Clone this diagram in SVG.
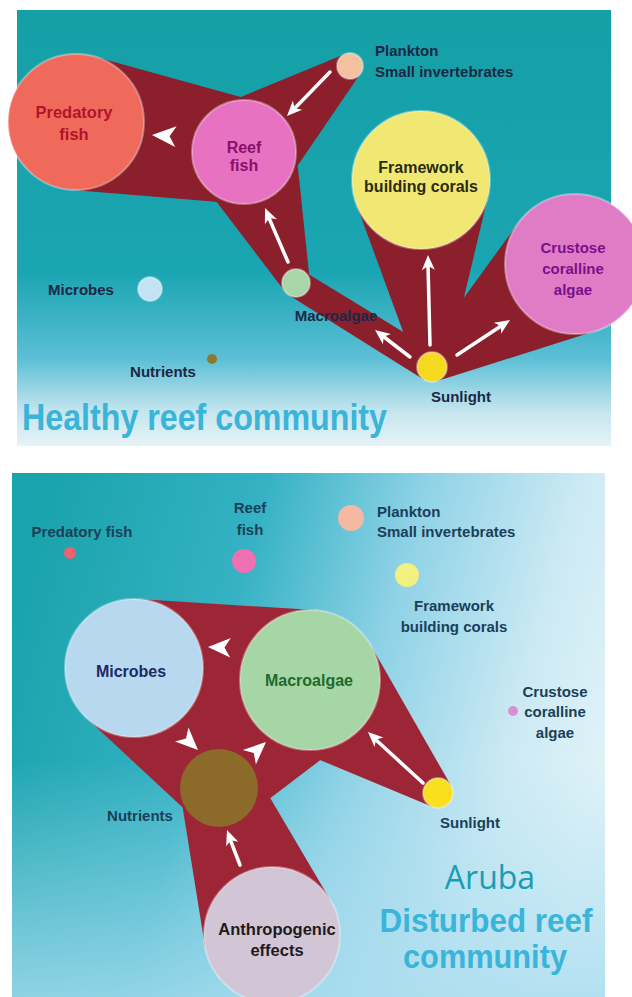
<svg xmlns="http://www.w3.org/2000/svg" xmlns:xlink="http://www.w3.org/1999/xlink" width="632" height="997" viewBox="0 0 632 997">
<defs>
<style>
text{font-family:"Liberation Sans",Arial,sans-serif;}
.in{font-size:16px;font-weight:bold;text-anchor:middle;}
.ext{font-size:15px;font-weight:bold;fill:#1c2744;}
.extb{font-size:15px;font-weight:bold;fill:#1a4058;}
.mid{text-anchor:middle;}
.title{font-size:36px;font-weight:bold;fill:#3ab4d9;}
.w1{fill:#8b1f2c;}
.w2{fill:#9d2636;}
.shaft{stroke:#ffffff;stroke-width:3.5;stroke-linecap:round;fill:none;}
.ah{fill:#ffffff;}
.node{stroke:#ffffff;stroke-opacity:0.35;stroke-width:2;}
</style>
<linearGradient id="bgTop" x1="0" y1="10" x2="0" y2="446" gradientUnits="userSpaceOnUse">
<stop offset="0" stop-color="#15a0a6"/>
<stop offset="0.6" stop-color="#1aa5b2"/>
<stop offset="0.8" stop-color="#5cbfd6"/>
<stop offset="0.92" stop-color="#c4e5ee"/>
<stop offset="1" stop-color="#e6f3f7"/>
</linearGradient>
<linearGradient id="bgBot" x1="12" y1="600" x2="605" y2="760" gradientUnits="userSpaceOnUse">
<stop offset="0" stop-color="#19a3aa"/>
<stop offset="0.35" stop-color="#35b2c4"/>
<stop offset="0.6" stop-color="#8fd2e6"/>
<stop offset="0.85" stop-color="#cdeaf4"/>
<stop offset="1" stop-color="#dff2f8"/>
</linearGradient>
<linearGradient id="bgBot2" x1="0" y1="760" x2="0" y2="997" gradientUnits="userSpaceOnUse">
<stop offset="0" stop-color="#a8dcef" stop-opacity="0"/>
<stop offset="1" stop-color="#a8dcef" stop-opacity="0.8"/>
</linearGradient>
<path id="head" d="M0,0 L-15,-6.5 L-11,0 L-15,6.5 Z"/>
</defs>

<g id="panels">
<rect x="17" y="10" width="594" height="436" fill="url(#bgTop)"/>
<rect x="12" y="473" width="593" height="524" fill="url(#bgBot)"/>
<rect x="12" y="473" width="593" height="524" fill="url(#bgBot2)"/>
</g>

<g id="connectors">
<g id="wedges-top">
<polygon class="w1" points="94.2,56.5 257.9,101.9 239.7,203.8 70.4,189.8"/>
<polygon class="w1" points="224.1,103.9 345,54 360.7,73.3 286.9,181.3"/>
<polygon class="w1" points="295.7,146.6 309.9,281.5 284.9,291.5 202.6,183.5"/>
<polygon class="w1" points="303.3,271 439.8,354.2 424,379.7 288.6,294.9"/>
<polygon class="w1" points="446.6,370.5 488.1,196 356.2,203.7 417.9,372.2"/>
<polygon class="w1" points="419.9,358.2 518.4,222.8 596.1,330.7 436.5,381.3"/>
</g>
<g id="wedges-bottom">
<polygon class="w2" points="138.3,599.1 314.4,610.1 304.8,749.8 128.9,736.8"/>
<polygon class="w2" points="197.3,640.4 254.8,772.4 192.4,816.6 87,718.5"/>
<polygon class="w2" points="247.9,647.7 352.3,735.8 242.6,819.1 184.4,770"/>
<polygon class="w2" points="134,668 310,680 219,788"/>
<polygon class="w2" points="451,785.6 370.8,645.2 283.1,744.6 432.2,806.8"/>
<polygon class="w2" points="180.5,794.2 252.6,768.2 330.6,900.5 204.9,945.8"/>
</g>
<g id="arrows-top">
<line class="shaft" x1="330" y1="72" x2="295" y2="108"/>
<use xlink:href="#head" class="ah" transform="translate(287,116) rotate(134.3)"/>
<use xlink:href="#head" class="ah" transform="translate(152,135) rotate(184) scale(1.6)"/>
<line class="shaft" x1="288" y1="262" x2="269" y2="218"/>
<use xlink:href="#head" class="ah" transform="translate(265,208) rotate(-113.1)"/>
<line class="shaft" x1="410" y1="357" x2="384" y2="337"/>
<use xlink:href="#head" class="ah" transform="translate(375,330) rotate(-142.4)"/>
<line class="shaft" x1="430" y1="345" x2="428" y2="265"/>
<use xlink:href="#head" class="ah" transform="translate(428,255) rotate(-91.3)"/>
<line class="shaft" x1="457" y1="355" x2="501" y2="326"/>
<use xlink:href="#head" class="ah" transform="translate(510,320) rotate(-33.4)"/>
</g>
<g id="arrows-bottom">
<use xlink:href="#head" class="ah" transform="translate(208,647) rotate(182) scale(1.5)"/>
<use xlink:href="#head" class="ah" transform="translate(198,750) rotate(43.6) scale(1.5)"/>
<use xlink:href="#head" class="ah" transform="translate(266,742) rotate(-42.3) scale(1.5)"/>
<line class="shaft" x1="423" y1="783" x2="375" y2="739"/>
<use xlink:href="#head" class="ah" transform="translate(368,732) rotate(-137.2)"/>
<line class="shaft" x1="240" y1="865" x2="230" y2="839"/>
<use xlink:href="#head" class="ah" transform="translate(227,830) rotate(-110.4)"/>
</g>
</g>

<g id="top-predatory-fish">
<circle class="node" cx="76" cy="122" r="68" fill="#f06a5c"/>
<text class="in" x="74" y="118" fill="#b0142c" style="font-size:16.5px">Predatory</text>
<text class="in" x="74" y="140" fill="#b0142c" style="font-size:16.5px">fish</text>
</g>
<g id="top-reef-fish">
<circle class="node" cx="244" cy="152" r="52" fill="#e872c2"/>
<text class="in" x="244" y="153" fill="#8a0f6a">Reef</text>
<text class="in" x="244" y="171" fill="#8a0f6a">fish</text>
</g>
<g id="top-plankton">
<circle class="node" cx="350" cy="66" r="13" fill="#f3c0a0"/>
<text class="ext" x="375" y="56">Plankton</text>
<text class="ext" x="375" y="77">Small invertebrates</text>
</g>
<g id="top-framework-corals">
<circle class="node" cx="421" cy="180" r="69" fill="#f0e872"/>
<text class="in" x="421" y="173" fill="#2b2a12">Framework</text>
<text class="in" x="421" y="192" fill="#2b2a12">building corals</text>
</g>
<g id="top-crustose">
<circle class="node" cx="575" cy="264" r="70" fill="#e07cc6"/>
<text class="in" x="573" y="253" fill="#7a0f8c" style="font-size:15px">Crustose</text>
<text class="in" x="573" y="274" fill="#7a0f8c" style="font-size:15px">coralline</text>
<text class="in" x="573" y="295" fill="#7a0f8c" style="font-size:15px">algae</text>
</g>
<g id="top-macroalgae">
<circle class="node" cx="296" cy="283" r="14" fill="#a8d6a8"/>
<text class="ext mid" x="336" y="321">Macroalgae</text>
</g>
<g id="top-sunlight">
<circle class="node" cx="432" cy="367" r="15" fill="#f5d820"/>
<text class="ext mid" x="461" y="402">Sunlight</text>
</g>
<g id="top-microbes">
<circle class="node" cx="150" cy="289" r="12" fill="#c4e2f6"/>
<text class="ext mid" x="81" y="295">Microbes</text>
</g>
<g id="top-nutrients">
<circle cx="212" cy="359" r="5" fill="#8a7a30"/>
<text class="ext mid" x="163" y="377">Nutrients</text>
</g>
<text class="title" x="22" y="430" textLength="365" lengthAdjust="spacingAndGlyphs">Healthy reef community</text>

<g id="bot-predatory-fish">
<circle cx="70" cy="553" r="6" fill="#f06070"/>
<text class="extb mid" x="82" y="537">Predatory fish</text>
</g>
<g id="bot-reef-fish">
<circle cx="244" cy="561" r="12" fill="#f070b4"/>
<text class="extb mid" x="250" y="513">Reef</text>
<text class="extb mid" x="250" y="535">fish</text>
</g>
<g id="bot-plankton">
<circle cx="351" cy="518" r="13" fill="#f5b8a0"/>
<text class="extb" x="377" y="517">Plankton</text>
<text class="extb" x="377" y="537">Small invertebrates</text>
</g>
<g id="bot-framework-corals">
<circle cx="407" cy="575" r="12" fill="#f2f080"/>
<text class="extb mid" x="454" y="611">Framework</text>
<text class="extb mid" x="454" y="632">building corals</text>
</g>
<g id="bot-crustose">
<circle cx="513" cy="711" r="5" fill="#d890d0"/>
<text class="extb mid" x="555" y="697">Crustose</text>
<text class="extb mid" x="555" y="717">coralline</text>
<text class="extb mid" x="555" y="738">algae</text>
</g>
<g id="bot-microbes">
<circle class="node" cx="134" cy="668" r="69" fill="#b8d8f0"/>
<text class="in" x="131" y="677" fill="#1b2a66">Microbes</text>
</g>
<g id="bot-macroalgae">
<circle class="node" cx="310" cy="680" r="70" fill="#a6d6a6"/>
<text class="in" x="309" y="686" fill="#1d6a2c">Macroalgae</text>
</g>
<g id="bot-nutrients">
<circle cx="219" cy="788" r="39" fill="#8c6b2a"/>
<text class="extb mid" x="140" y="821">Nutrients</text>
</g>
<g id="bot-sunlight">
<circle class="node" cx="438" cy="793" r="15" fill="#f8e020"/>
<text class="extb mid" x="470" y="828">Sunlight</text>
</g>
<g id="bot-anthropogenic">
<circle class="node" cx="272" cy="935" r="68" fill="#d2c6d6"/>
<text class="in" x="277" y="935" fill="#1f1a20" style="font-size:16.5px">Anthropogenic</text>
<text class="in" x="277" y="956" fill="#1f1a20" style="font-size:16.5px">effects</text>
</g>
<text x="490" y="889" text-anchor="middle" style="font-family:'Open Sans','Noto Sans',sans-serif;font-size:32px;fill:#1a9cb4">Aruba</text>
<text class="title" x="486" y="932" text-anchor="middle" style="font-size:33px" textLength="213" lengthAdjust="spacingAndGlyphs">Disturbed reef</text>
<text class="title" x="485" y="968" text-anchor="middle" style="font-size:33px" textLength="164" lengthAdjust="spacingAndGlyphs">community</text>
</svg>
